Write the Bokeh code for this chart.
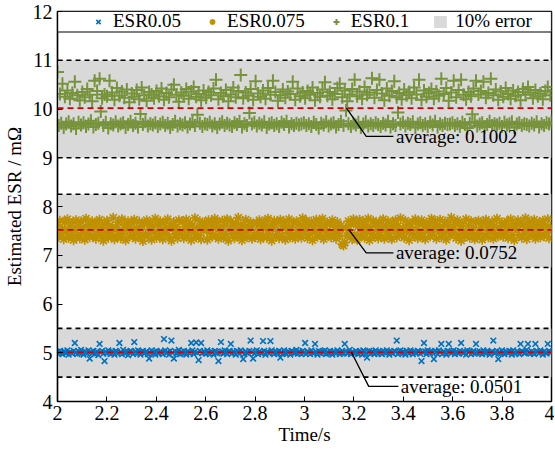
import numpy as np
from bokeh.plotting import figure
from bokeh.models import Range1d, FixedTicker, NumeralTickFormatter, Legend, LegendItem, ColumnDataSource
from bokeh.core.properties import value
from bokeh.embed import file_html
from bokeh.resources import INLINE

FONT = "'Liberation Serif', 'Times New Roman', serif"

# ---------------- data ----------------
series_names = ["ESR0.05", "ESR0.075", "ESR0.1"]
nominal = [5.0, 7.5, 10.0]          # mOhm, centres of the 10% error bands
averages = [5.01, 7.52, 10.02]      # plotted average lines
avg_labels = ["average: 0.0501", "average: 0.0752", "average: 0.1002"]
x_ticks = [2, 2.2, 2.4, 2.6, 2.8, 3, 3.2, 3.4, 3.6, 3.8, 4]
y_ticks = [4, 5, 6, 7, 8, 9, 10, 11, 12]

esr_005 = [
    5.02, 4.98, 5.04, 5.00, 4.97, 5.03, 5.01, 4.99, 5.05, 4.96, 5.02, 5.00, 4.98, 5.04, 5.20, 5.01, 4.97, 5.03, 4.99, 5.06,
    5.00, 4.96, 5.03, 5.01, 4.98, 5.05, 4.88, 5.02, 4.99, 5.04, 4.97, 5.00, 5.03, 4.95, 5.18, 5.01, 5.04, 4.98, 4.83, 5.02,
    4.99, 5.05, 5.01, 4.97, 5.03, 5.00, 4.96, 5.04, 5.02, 4.98, 5.20, 5.01, 4.97, 5.06, 5.00, 4.99, 5.03, 4.95, 5.02, 5.04,
    5.01, 4.97, 5.22, 5.03, 4.99, 5.05, 5.00, 4.96, 5.02, 5.04, 4.98, 5.01, 5.03, 4.97, 4.88, 5.00, 5.05, 4.99, 5.02, 4.96,
    5.04, 5.00, 4.98, 5.03, 5.01, 4.97, 5.28, 5.05, 4.99, 5.02, 4.96, 5.04, 5.25, 5.00, 4.88, 5.03, 4.98, 5.01, 5.06, 4.97,
    5.02, 4.99, 5.04, 5.00, 4.96, 5.03, 5.01, 4.98, 5.20, 5.05, 4.97, 5.02, 5.21, 5.00, 4.85, 5.04, 5.20, 4.99, 5.03, 5.01,
    4.98, 5.05, 5.00, 4.97, 5.03, 5.01, 4.96, 5.04, 5.02, 4.99, 4.83, 5.00, 5.22, 5.03, 4.98, 5.05, 5.01, 4.97, 5.02, 5.04,
    5.18, 4.99, 5.03, 5.00, 4.96, 5.04, 5.02, 4.98, 5.05, 5.01, 4.87, 4.97, 5.03, 5.00, 4.99, 5.04, 5.25, 5.02, 4.88, 4.98,
    5.01, 5.05, 4.97, 5.03, 5.00, 4.99, 5.24, 5.04, 4.96, 5.02, 5.01, 4.98, 5.24, 5.05, 5.00, 4.97, 5.03, 5.01, 4.99, 5.04,
    4.90, 5.02, 4.98, 5.05, 5.00, 4.97, 5.03, 5.01, 4.96, 5.04, 5.02, 4.99, 5.00, 5.06, 4.98, 5.03, 5.01, 4.97, 5.04, 5.00,
    5.20, 4.98, 5.03, 5.01, 4.97, 5.05, 5.00, 4.99, 5.18, 5.02, 4.96, 5.04, 5.01, 4.98, 5.03, 5.00, 5.05, 4.97, 5.02, 4.99,
    5.04, 5.00, 4.96, 5.03, 5.01, 4.98, 5.05, 5.02, 4.97, 5.00, 5.04, 4.99, 5.18, 5.03, 4.98, 5.01, 5.06, 4.97, 5.02, 5.00,
    4.99, 5.04, 5.01, 4.97, 5.03, 5.00, 4.96, 5.05, 5.02, 4.98, 4.90, 5.01, 5.04, 4.99, 5.03, 5.00, 4.97, 5.05, 5.01, 4.98,
    5.03, 5.00, 4.97, 5.04, 5.02, 4.99, 5.05, 5.01, 4.96, 5.03, 5.00, 4.98, 5.04, 5.02, 5.25, 4.97, 5.01, 5.05, 4.99, 5.03,
    5.00, 4.96, 5.04, 5.02, 4.98, 5.05, 5.01, 4.97, 5.03, 5.00, 4.99, 5.04, 5.02, 4.98, 4.83, 5.01, 5.20, 5.03, 4.97, 5.05,
    5.01, 4.99, 5.03, 5.00, 4.87, 5.04, 5.02, 4.97, 5.05, 5.01, 5.18, 4.98, 5.03, 5.00, 4.96, 5.04, 5.18, 5.02, 4.99, 5.01,
    5.05, 4.97, 5.03, 5.00, 4.98, 5.04, 5.20, 5.01, 4.99, 5.02, 4.96, 5.05, 5.00, 5.03, 4.97, 5.01, 5.04, 4.98, 5.18, 5.02,
    4.99, 5.03, 5.00, 4.97, 5.05, 5.01, 4.98, 5.04, 5.02, 4.96, 5.00, 5.03, 5.25, 4.99, 5.01, 5.04, 4.87, 5.02, 4.98, 5.05,
    5.00, 4.97, 5.03, 5.01, 4.99, 5.04, 5.02, 4.96, 5.05, 5.00, 4.98, 5.03, 5.01, 4.97, 5.18, 5.04, 5.02, 4.99, 5.00, 5.06,
    5.18, 5.01, 4.98, 5.03, 5.00, 4.97, 5.18, 5.04, 5.02, 4.99, 5.05, 5.01, 4.96, 5.03, 5.00, 4.98, 5.18, 5.04, 5.02, 5.01,
]

esr_0075 = [
    7.62, 7.38, 7.71, 7.45, 7.55, 7.33, 7.68, 7.49, 7.74, 7.36, 7.58, 7.42, 7.66, 7.31, 7.52, 7.72, 7.40, 7.60, 7.35, 7.69,
    7.47, 7.57, 7.32, 7.75, 7.44, 7.63, 7.37, 7.53, 7.70, 7.41, 7.59, 7.34, 7.67, 7.48, 7.73, 7.39, 7.56, 7.30, 7.64, 7.46,
    7.71, 7.36, 7.61, 7.43, 7.54, 7.77, 7.33, 7.58, 7.40, 7.68, 7.50, 7.35, 7.74, 7.45, 7.62, 7.31, 7.57, 7.70, 7.38, 7.52,
    7.66, 7.42, 7.73, 7.34, 7.55, 7.47, 7.69, 7.37, 7.60, 7.29, 7.64, 7.44, 7.72, 7.39, 7.53, 7.67, 7.32, 7.58, 7.48, 7.75,
    7.36, 7.63, 7.41, 7.70, 7.51, 7.33, 7.66, 7.45, 7.57, 7.74, 7.38, 7.61, 7.30, 7.54, 7.68, 7.43, 7.59, 7.35, 7.72, 7.49,
    7.44, 7.69, 7.35, 7.58, 7.73, 7.40, 7.52, 7.65, 7.31, 7.61, 7.47, 7.76, 7.37, 7.56, 7.42, 7.70, 7.33, 7.63, 7.50, 7.67,
    7.59, 7.32, 7.72, 7.46, 7.64, 7.38, 7.55, 7.75, 7.41, 7.68, 7.34, 7.57, 7.49, 7.71, 7.36, 7.62, 7.44, 7.74, 7.30, 7.53,
    7.70, 7.43, 7.60, 7.35, 7.66, 7.48, 7.77, 7.39, 7.56, 7.31, 7.63, 7.45, 7.73, 7.37, 7.58, 7.51, 7.68, 7.34, 7.61, 7.42,
    7.38, 7.65, 7.47, 7.72, 7.33, 7.59, 7.41, 7.69, 7.54, 7.36, 7.75, 7.44, 7.62, 7.30, 7.57, 7.71, 7.40, 7.66, 7.49, 7.35,
    7.73, 7.39, 7.55, 7.68, 7.32, 7.61, 7.46, 7.74, 7.37, 7.58, 7.43, 7.67, 7.34, 7.70, 7.51, 7.41, 7.63, 7.36, 7.76, 7.48,
    7.56, 7.71, 7.35, 7.62, 7.44, 7.69, 7.31, 7.58, 7.47, 7.73, 7.38, 7.65, 7.42, 7.54, 7.75, 7.33, 7.60, 7.49, 7.67, 7.40,
    7.64, 7.37, 7.72, 7.45, 7.57, 7.34, 7.68, 7.50, 7.41, 7.61, 7.23, 7.20, 7.26, 7.55, 7.39, 7.70, 7.46, 7.63, 7.33, 7.74,
    7.43, 7.66, 7.32, 7.59, 7.73, 7.40, 7.54, 7.69, 7.36, 7.62, 7.48, 7.75, 7.31, 7.57, 7.44, 7.71, 7.38, 7.65, 7.52, 7.35,
    7.68, 7.42, 7.56, 7.74, 7.34, 7.61, 7.47, 7.70, 7.39, 7.58, 7.33, 7.66, 7.51, 7.72, 7.37, 7.60, 7.45, 7.76, 7.41, 7.55,
    7.36, 7.71, 7.49, 7.63, 7.31, 7.57, 7.44, 7.68, 7.40, 7.74, 7.53, 7.35, 7.65, 7.46, 7.72, 7.38, 7.59, 7.33, 7.67, 7.50,
    7.61, 7.39, 7.75, 7.43, 7.56, 7.70, 7.34, 7.62, 7.48, 7.73, 7.37, 7.58, 7.45, 7.69, 7.32, 7.64, 7.52, 7.41, 7.77, 7.46,
    7.54, 7.67, 7.35, 7.72, 7.42, 7.59, 7.30, 7.65, 7.50, 7.38, 7.74, 7.44, 7.61, 7.36, 7.70, 7.47, 7.56, 7.33, 7.68, 7.40,
    7.71, 7.45, 7.58, 7.32, 7.66, 7.41, 7.73, 7.53, 7.37, 7.63, 7.48, 7.69, 7.34, 7.60, 7.43, 7.75, 7.39, 7.57, 7.46, 7.67,
    7.38, 7.62, 7.47, 7.70, 7.35, 7.56, 7.74, 7.42, 7.64, 7.31, 7.59, 7.51, 7.72, 7.40, 7.66, 7.36, 7.61, 7.45, 7.76, 7.33,
    7.57, 7.69, 7.41, 7.63, 7.48, 7.73, 7.34, 7.60, 7.44, 7.67, 7.37, 7.55, 7.71, 7.39, 7.62, 7.46, 7.74, 7.35, 7.58, 7.52,
]

esr_01 = [
    10.76, 9.66, 10.31, 9.71, 10.52, 9.62, 10.25, 9.69, 10.38, 9.74, 10.21, 9.65, 10.33, 9.70, 10.56, 9.60, 10.28, 9.73, 10.18, 9.67,
    10.35, 9.72, 10.24, 9.64, 10.41, 9.69, 10.29, 9.76, 10.16, 9.63, 10.58, 9.68, 10.37, 9.71, 10.62, 9.95, 10.22, 9.66, 10.30, 9.73,
    10.26, 9.61, 10.58, 9.70, 10.34, 9.67, 10.19, 9.74, 10.43, 9.65, 10.27, 9.69, 10.36, 9.72, 10.23, 9.62, 10.40, 9.68, 10.14, 9.75,
    10.32, 9.66, 10.25, 9.71, 10.39, 9.63, 10.20, 9.90, 10.44, 9.68, 10.28, 9.74, 10.17, 9.65, 10.35, 9.70, 10.30, 9.67, 10.22, 9.72,
    10.37, 9.64, 10.26, 9.69, 10.42, 9.73, 10.19, 9.66, 10.33, 9.71, 10.24, 9.62, 10.40, 9.68, 10.50, 9.75, 10.29, 9.65, 10.15, 9.70,
    10.34, 9.67, 10.27, 9.72, 10.41, 9.63, 10.21, 9.69, 10.36, 9.74, 10.45, 9.66, 10.25, 9.88, 10.31, 9.71, 10.18, 9.64, 10.38, 9.70,
    10.23, 9.68, 10.35, 9.73, 10.28, 9.65, 10.42, 9.70, 10.60, 9.62, 10.20, 9.69, 10.33, 9.74, 10.26, 9.66, 10.39, 9.71, 10.16, 9.67,
    10.30, 9.64, 10.44, 9.72, 10.24, 9.68, 10.37, 9.75, 10.70, 9.63, 10.22, 9.70, 10.34, 9.66, 10.27, 9.92, 10.41, 9.69, 10.19, 9.73,
    10.57, 9.65, 10.32, 9.71, 10.25, 9.67, 10.38, 9.74, 10.21, 9.62, 10.43, 9.69, 10.29, 9.72, 10.58, 9.66, 10.35, 9.70, 10.17, 9.64,
    10.28, 9.73, 10.40, 9.68, 10.23, 9.75, 10.36, 9.63, 10.31, 9.70, 10.56, 9.66, 10.19, 9.71, 10.42, 9.67, 10.26, 9.69, 10.34, 9.72,
    10.22, 9.66, 10.37, 9.70, 10.29, 9.64, 10.44, 9.73, 10.18, 9.68, 10.33, 9.61, 10.25, 9.71, 10.40, 9.67, 10.55, 9.74, 10.27, 9.65,
    10.35, 9.69, 10.20, 9.72, 10.31, 9.63, 10.43, 9.68, 10.52, 9.75, 10.24, 9.66, 10.38, 9.97, 10.16, 9.70, 10.30, 9.64, 10.41, 9.71,
    10.60, 9.67, 10.26, 9.73, 10.36, 9.62, 10.21, 9.69, 10.45, 9.74, 10.29, 9.65, 10.34, 9.70, 10.63, 9.66, 10.23, 9.72, 10.39, 9.68,
    10.60, 9.64, 10.32, 9.71, 10.18, 9.67, 10.42, 9.75, 10.27, 9.63, 10.37, 9.70, 10.57, 9.66, 10.24, 9.93, 10.33, 9.69, 10.20, 9.73,
    10.40, 9.65, 10.28, 9.71, 10.35, 9.68, 10.22, 9.74, 10.44, 9.62, 10.30, 9.69, 10.60, 9.72, 10.19, 9.66, 10.38, 9.70, 10.25, 9.64,
    10.33, 9.73, 10.41, 9.67, 10.21, 9.75, 10.36, 9.63, 10.27, 9.70, 10.62, 9.66, 10.31, 9.71, 10.43, 9.68, 10.17, 9.69, 10.34, 9.72,
    10.58, 9.66, 10.24, 9.70, 10.39, 9.64, 10.60, 9.73, 10.29, 9.68, 10.20, 9.61, 10.35, 9.71, 10.26, 9.89, 10.42, 9.74, 10.58, 9.65,
    10.30, 9.69, 10.37, 9.72, 10.56, 9.63, 10.23, 9.68, 10.33, 9.75, 10.62, 9.66, 10.28, 9.70, 10.40, 9.67, 10.19, 9.71, 10.36, 9.64,
    10.25, 9.73, 10.43, 9.67, 10.31, 9.70, 10.21, 9.74, 10.38, 9.62, 10.27, 9.69, 10.35, 9.72, 10.18, 9.66, 10.41, 9.70, 10.29, 9.68,
    10.45, 9.65, 10.34, 9.71, 10.22, 9.67, 10.39, 9.74, 10.26, 9.63, 10.32, 9.70, 10.20, 9.66, 10.37, 9.72, 10.45, 9.69, 10.28, 9.73,
]

t_start, t_end = 2.0, 4.0
time = np.linspace(t_start, t_end, len(esr_005))

# ---------------- figure ----------------
p = figure(width=554, height=450, output_backend="svg", toolbar_location=None,
           x_range=Range1d(2, 4), y_range=Range1d(4, 12),
           min_border_left=57, min_border_right=3, min_border_top=11, min_border_bottom=49)
p.title.visible = False
p.background_fill_color = "white"
p.xgrid.visible = False
p.ygrid.visible = False
p.outline_line_color = "black"
p.outline_line_width = 1.5
p.outline_line_alpha = 1

for ax in (p.xaxis[0], p.yaxis[0]):
    ax.major_tick_in = 5
    ax.major_tick_out = 0
    ax.minor_tick_in = 0
    ax.minor_tick_out = 0
    ax.axis_line_color = "black"
    ax.axis_line_width = 1.2
    ax.major_tick_line_color = "black"
    ax.major_tick_line_width = 1
    ax.major_label_text_font = FONT
    ax.major_label_text_font_size = "20px"
    ax.major_label_text_color = "black"
    ax.axis_label_text_font = FONT
    ax.axis_label_text_font_size = "19px"
    ax.axis_label_text_font_style = "normal"
    ax.axis_label_text_color = "black"

p.xaxis.ticker = FixedTicker(ticks=x_ticks)
p.xaxis.formatter = NumeralTickFormatter(format="0.[0]")
p.yaxis.ticker = FixedTicker(ticks=y_ticks)
p.xaxis.axis_label = "Time/s"
p.yaxis.axis_label = "Estimated ESR / mΩ"
p.xaxis.major_label_standoff = 4
p.yaxis.major_label_standoff = 5
p.xaxis.axis_label_standoff = 1
p.yaxis.axis_label_standoff = 5

# 10% error bands
band_lo = [v * 0.9 for v in nominal]
band_hi = [v * 1.1 for v in nominal]
band_src = ColumnDataSource(dict(left=[t_start] * 3, right=[t_end] * 3, bottom=band_lo, top=band_hi))
band_r = p.quad(left="left", right="right", bottom="bottom", top="top", source=band_src,
                fill_color="#d9d9d9", line_color=None)
edges = band_lo + band_hi
p.segment(x0=[t_start] * len(edges), x1=[t_end] * len(edges), y0=edges, y1=edges,
          line_color="black", line_width=1.6, line_dash="5 4")

# series
colors = ["#0070c0", "#bf9000", "#77933c"]
r1 = p.scatter(time, esr_005, marker="x", size=8, line_width=1.6, color=colors[0])
r2 = p.scatter(time, esr_0075, marker="asterisk", size=10, line_width=1.7, color=colors[1])
r3 = p.scatter(time, esr_01, marker="cross", size=13, line_width=2.0, color=colors[2])

# average lines
p.segment(x0=[t_start] * 3, x1=[t_end] * 3, y0=averages, y1=averages,
          line_color="#d00000", line_width=1.7, line_dash="6 4")

# annotations (leader lines + text)
leaders = [
    ([3.19, 3.26, 3.38], [averages[0], 4.31, 4.31], 3.39, 4.31),
    ([3.18, 3.25, 3.36], [averages[1], 7.05, 7.05], 3.37, 7.05),
    ([3.17, 3.25, 3.36], [averages[2], 9.44, 9.44], 3.37, 9.44),
]
for (lx, ly, tx, ty), lab in zip(leaders, avg_labels):
    p.line(lx, ly, line_color="black", line_width=1.3)
    p.text(x=[tx], y=[ty], text=[lab], text_font=value(FONT), text_font_size="19px",
           text_baseline="middle", text_align="left", text_color="black")

# legend box across the top
p.quad(left=[t_start], right=[t_end], bottom=[11.58], top=[12],
       fill_color="white", line_color="black", line_width=1.2)

frame_h = 450 - 11 - 49
legend = Legend(items=[
    LegendItem(label=series_names[0], renderers=[r1]),
    LegendItem(label=series_names[1], renderers=[r2]),
    LegendItem(label=series_names[2], renderers=[r3]),
    LegendItem(label="10% error", renderers=[band_r]),
], orientation="horizontal", location=(33, frame_h - 21), margin=0, padding=0, spacing=23,
    glyph_width=16, glyph_height=15, label_height=20, label_standoff=7,
    label_text_font=FONT, label_text_font_size="19px", label_text_color="black",
    label_text_baseline="middle",
    background_fill_alpha=0, border_line_alpha=0)
p.add_layout(legend, "center")

open("out.html", "w").write(file_html(p, INLINE))
